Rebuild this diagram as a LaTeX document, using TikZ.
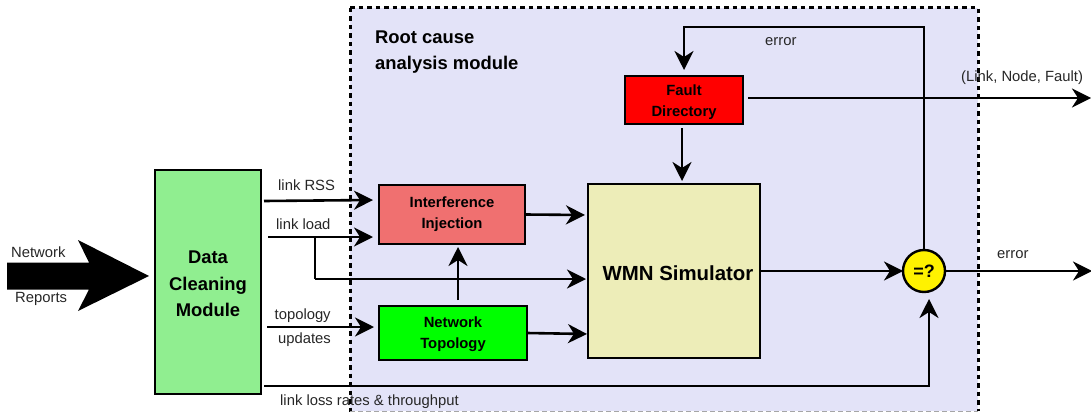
\documentclass[tikz,border=0pt]{standalone}
\usepackage{fontspec}
\setmainfont{Liberation Sans}
\usetikzlibrary{arrows.meta}
\definecolor{regionfill}{HTML}{E3E3F8}
\definecolor{dcgreen}{HTML}{90EE90}
\definecolor{intred}{HTML}{F07070}
\definecolor{simyellow}{HTML}{EDEDB8}
\newcommand{\dnstrut}[1]{\rule{0pt}{#1}}
\tikzset{
  box/.style={draw=black,line width=2.4pt,inner sep=0pt,outer sep=0pt,align=center,font=\fontsize{14.8}{21}\selectfont\bfseries},
  conn/.style={line width=2.6pt,-{Stealth[length=19pt,width=19pt,inset=6pt]}},
  lbl/.style={inner sep=0pt,font=\fontsize{14.8}{17}\selectfont,text=black!85},
}
\begin{document}
\begin{tikzpicture}[x=1pt,y=-1pt]
\useasboundingbox (0,0) rectangle (1091,412);
\fill[regionfill] (350,8) rectangle (978,411);
% nodes
\node[box,fill=dcgreen,minimum width=106pt,minimum height=224pt,font=\fontsize{18.4}{26.5}\selectfont\bfseries] (dc) at (208,282) {\dnstrut{17pt}Data\\Cleaning\\Module};
\node[box,fill=intred,minimum width=146pt,minimum height=59pt] (int) at (452,214.5) {\dnstrut{11pt}Interference\\Injection};
\node[box,fill=green,minimum width=148pt,minimum height=54pt] (top) at (453,333) {\dnstrut{13pt}Network\\Topology};
\node[box,fill=red,minimum width=118pt,minimum height=48pt] (fd) at (684,100) {\dnstrut{15pt}Fault\\Directory};
\node[box,fill=simyellow,minimum width=172pt,minimum height=174pt] (sim) at (674,271) {};
\node[inner sep=0pt,font=\fontsize{20.4}{24}\selectfont\bfseries] (simt) at (678,273) {WMN Simulator};
\node[draw=black,line width=2.4pt,fill=yellow,circle,minimum size=42pt,inner sep=0pt,outer sep=0pt,font=\fontsize{18}{20}\selectfont\bfseries] (cmp) at (924,271) {=?};
\coordinate (outf) at (1091,98);
\coordinate (oute) at (1092,271);
\coordinate (bigs) at (7,276);
% connectors
\draw[conn] ([shift={(3,-81)}]dc.east) -- ([shift={(-6,-14.5)}]int.west);
\draw[conn] ([shift={(7,-45)}]dc.east) -- ([shift={(-6,22.5)}]int.west);
\draw[line width=2.6pt] ([shift={(54,-45)}]dc.east) -- ([shift={(54,-3)}]dc.east);
\draw[conn] ([shift={(54,-3)}]dc.east) -- ([shift={(-2,8)}]sim.west);
\draw[conn] ([shift={(6,45)}]dc.east) -- ([shift={(-5,-6)}]top.west);
\draw[conn] ([shift={(3,104)}]dc.east) -| ([shift={(5,7)}]cmp.south);
\draw[conn] (int.east) -- ([shift={(-3,-56)}]sim.west);
\draw[conn] ([shift={(5,-6)}]top.north) -- ([shift={(6,3)}]int.south);
\draw[conn] (top.east) -- ([shift={(-1,63)}]sim.west);
\draw[conn] ([shift={(-2,4)}]fd.south) -- ([shift={(8,-3)}]sim.north);
\draw[conn] (sim.east) -- (cmp.west);
\draw[conn] (cmp.east) -- (oute);
\draw[conn] ([shift={(5,-2)}]fd.east) -- (outf);
\draw[conn] (cmp.north) |- ([shift={(0,-49)}]fd.north) -- ([shift={(0,-6)}]fd.north);
% big arrow
\fill[black] (bigs) ++(0,-13.5) -- (89,262.5) -- (78,240) -- (149,276) -- (78,311) -- (89,289.5) -- (7,289.5) -- cycle;
% dashed border
\draw[line width=3pt,dash pattern=on 4.5pt off 4pt,black] (350,8) -- (978,8) -- (978,411);
\draw[line width=3pt,dash pattern=on 4.5pt off 4pt,black] (350,8) -- (350,412);
\draw[line width=1pt,dash pattern=on 5pt off 3pt,black!35] (350,411) -- (978,411);
% labels
\node[lbl,anchor=west] (l1) at (11,252.3) {Network};
\node[lbl,anchor=west] (l2) at (15,299.3) {Reports};
\node[lbl,anchor=west] (l3) at (278,185.3) {link RSS};
\node[lbl,anchor=west] (l4) at (276,224.3) {link load};
\node[lbl,anchor=west] (l5) at (274.5,315.3) {topology};
\node[lbl,anchor=west] (l6) at (278,339.3) {updates};
\node[lbl,anchor=west] (l7) at (280,401.3) {link loss rates \& throughput};
\node[lbl,anchor=west] (l8) at (765,41.3) {error};
\node[lbl,anchor=west] (l9) at (961,77.3) {(Link, Node, Fault)};
\node[lbl,anchor=west] (l10) at (997,254.3) {error};
\node[inner sep=0pt,anchor=west,align=left,font=\fontsize{18.4}{26}\selectfont\bfseries] (root) at (375,50.5) {\dnstrut{15pt}Root cause\\analysis module};
\end{tikzpicture}
\end{document}
